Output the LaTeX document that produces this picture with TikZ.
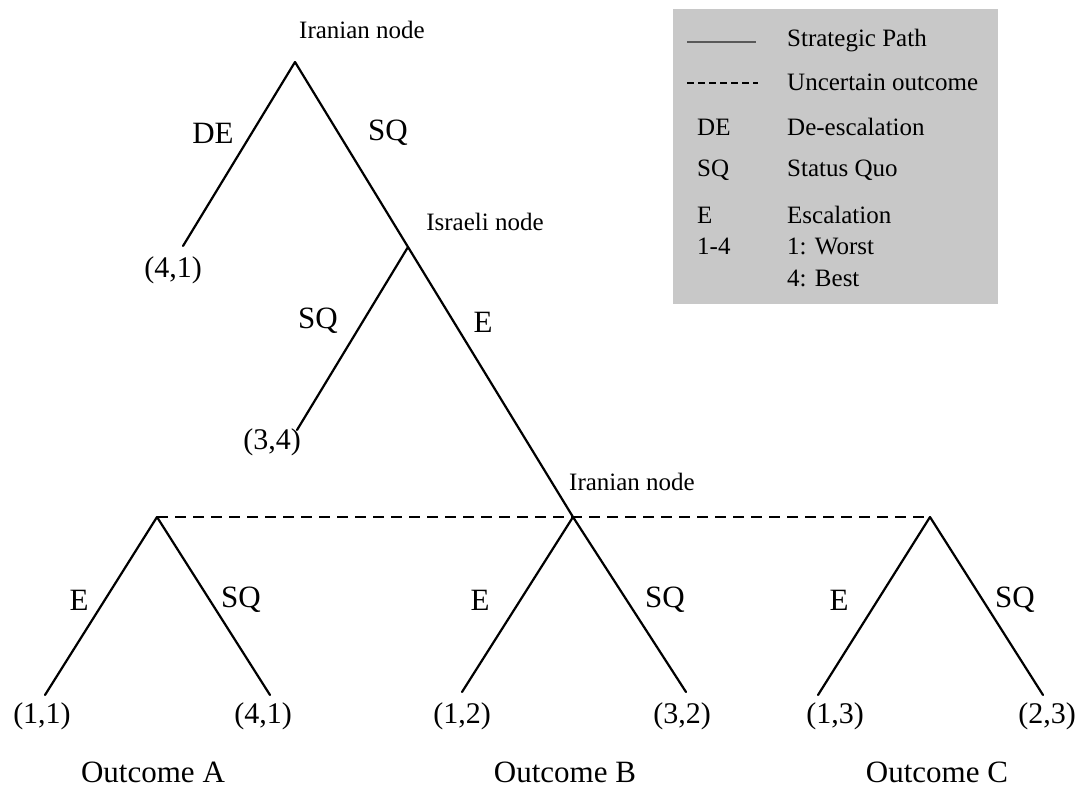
\documentclass[tikz,border=0pt]{standalone}
\usepackage{fontspec}
\setmainfont{Liberation Serif}
\definecolor{legendgray}{RGB}{200,200,200}
\begin{document}
\begin{tikzpicture}[x=1pt,y=-1pt,
  branch/.style={line width=2.2pt, line cap=round},
  infoset/.style={line width=2.2pt, dash pattern=on 11pt off 7pt},
  movelbl/.style={font=\fontsize{31}{36}\selectfont, inner sep=0pt},
  payoff/.style={font=\fontsize{30}{36}\selectfont, inner sep=0pt},
  playerlbl/.style={font=\fontsize{25}{30}\selectfont, inner sep=0pt},
  legtxt/.style={font=\fontsize{25}{30}\selectfont, inner sep=0pt, anchor=west},
]
\useasboundingbox (0,0) rectangle (1083,790);

% decision points
\coordinate (root) at (295,62);
\coordinate (isr) at (408,247);
\coordinate (irA) at (157,517);
\coordinate (irB) at (573,517);
\coordinate (irC) at (930,517);

% terminal points
\coordinate (t1) at (183,246);
\coordinate (t2) at (297,430);
\coordinate (a1) at (45,695);
\coordinate (a2) at (270,695);
\coordinate (b1) at (462,692);
\coordinate (b2) at (686,692);
\coordinate (c1) at (818,695);
\coordinate (c2) at (1043,695);

% information set
\draw[infoset] (irA) -- (irB) -- (irC);

% branches
\draw[branch] (root) -- (t1);
\draw[branch] (root) -- (isr);
\draw[branch] (isr) -- (t2);
\draw[branch] (isr) -- (irB);
\draw[branch] (irA) -- (a1);
\draw[branch] (irA) -- (a2);
\draw[branch] (irB) -- (b1);
\draw[branch] (irB) -- (b2);
\draw[branch] (irC) -- (c1);
\draw[branch] (irC) -- (c2);

% player labels
\node[playerlbl] (pRoot) at (362,30) {Iranian node};
\node[playerlbl] (pIsr) at (485,222) {Israeli node};
\node[playerlbl] (pIrB) at (632,482) {Iranian node};

% move labels
\node[movelbl] (mDE) at (213,133) {DE};
\node[movelbl] (mSQ1) at (388,133) {SQ};
\node[movelbl] (mSQ2) at (318,321) {SQ};
\node[movelbl] (mE1) at (483,322) {E};
\node[movelbl] (mAE) at (79,600) {E};
\node[movelbl] (mASQ) at (241,600) {SQ};
\node[movelbl] (mBE) at (480,600) {E};
\node[movelbl] (mBSQ) at (665,600) {SQ};
\node[movelbl] (mCE) at (839,600) {E};
\node[movelbl] (mCSQ) at (1015,600) {SQ};

% payoffs
\node[payoff] (v1) at (173,270) {(4,1)};
\node[payoff] (v2) at (272,442) {(3,4)};
\node[payoff] (vA1) at (42,716) {(1,1)};
\node[payoff] (vA2) at (263,716) {(4,1)};
\node[payoff] (vB1) at (462,716) {(1,2)};
\node[payoff] (vB2) at (682,716) {(3,2)};
\node[payoff] (vC1) at (835,716) {(1,3)};
\node[payoff] (vC2) at (1047,716) {(2,3)};

% outcomes
\node[movelbl] (oA) at (153,772) {Outcome A};
\node[movelbl] (oB) at (565,772) {Outcome B};
\node[movelbl] (oC) at (937,772) {Outcome C};

% legend
\fill[legendgray] (673,9) rectangle (998,304);
\coordinate (ls1) at (687,42);
\coordinate (ls2) at (756,42);
\coordinate (ld1) at (687,83);
\coordinate (ld2) at (758,83);
\draw[line width=2.6pt, black!65] (ls1) -- (ls2);
\draw[line width=1.5pt, dash pattern=on 6.5pt off 4.5pt] (ld1) -- (ld2);
\node[legtxt] (k1) at (787,41) {Strategic Path};
\node[legtxt] (k2) at (787,82) {Uncertain outcome};
\node[legtxt] (s3) at (697,127) {DE};
\node[legtxt] (k3) at (787,127) {De-escalation};
\node[legtxt] (s4) at (697,170) {SQ};
\node[legtxt] (k4) at (787,170) {Status Quo};
\node[legtxt] (s5) at (697,215) {E};
\node[legtxt] (k5) at (787,215) {Escalation};
\node[legtxt] (s6) at (697,246) {1-4};
\node[legtxt] (k6) at (787,246) {1: Worst};
\node[legtxt] (k7) at (787,278) {4: Best};
\end{tikzpicture}
\end{document}
